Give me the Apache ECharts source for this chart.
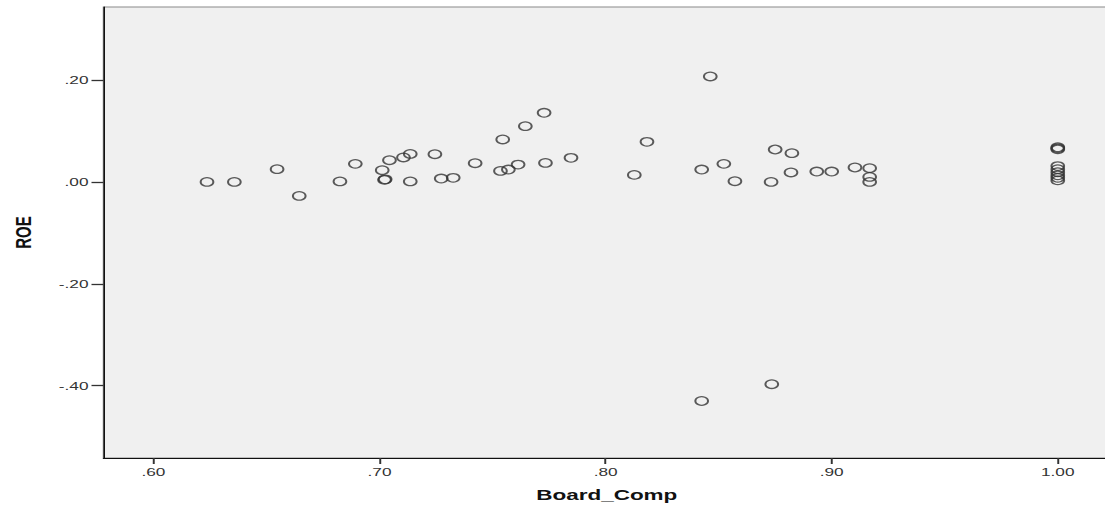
<!DOCTYPE html>
<html>
<head>
<meta charset="utf-8">
<script src="https://cdn.jsdelivr.net/npm/echarts@6/dist/echarts.min.js"></script>
<style>
  html, body { margin: 0; padding: 0; background: #ffffff; overflow: hidden; width: 1105px; height: 510px; }
  #chart { width: 740px; height: 510px; transform: scaleX(1.5); transform-origin: 0 0; }
</style>
</head>
<body>
<div id="chart"></div>
<script>
// Board_Comp (x) values
const boardComp = [
  0.6237, 0.6358, 0.6547, 0.6645, 0.6825, 0.6893, 0.7012, 0.7022, 0.7025, 0.7044,
  0.7106, 0.7136, 0.7136, 0.7245, 0.7273, 0.7326, 0.7423, 0.7545, 0.7535, 0.7570,
  0.7613, 0.7645, 0.7728, 0.7734, 0.7847, 0.8127, 0.8183, 0.8425, 0.8463, 0.8523,
  0.8572, 0.8732, 0.8750, 0.8824, 0.8820, 0.8934, 0.9000, 0.9103, 0.9168, 0.9168,
  0.9168, 0.8425, 0.8735,
  1.0, 1.0, 1.0, 1.0, 1.0, 1.0, 1.0, 1.0, 1.0
];
// ROE (y) values
const roe = [
  0.000, 0.000, 0.025, -0.0275, 0.001, 0.0354, 0.023, 0.004, 0.005, 0.0426,
  0.048, 0.055, 0.001, 0.0544, 0.0066, 0.008, 0.0367, 0.0833, 0.0216, 0.0243,
  0.034, 0.1094, 0.1356, 0.0373, 0.0472, 0.0138, 0.0786, 0.0243, 0.207, 0.0354,
  0.0014, 0.000, 0.0636, 0.0564, 0.0185, 0.0204, 0.0204, 0.0283, 0.027, 0.0098,
  0.000, -0.430, -0.397,
  0.068, 0.066, 0.064, 0.031, 0.025, 0.019, 0.013, 0.008, 0.003
];
const xTicks = [0.6, 0.7, 0.8, 0.9, 1.0];
const yTicks = [-0.4, -0.2, 0.0, 0.2];
const xName = 'Board_Comp';
const yName = 'ROE';

const fmt = v => v.toFixed(2).replace(/^(-?)0\./, '$1.').replace(/^-\.00$/, '.00');
const points = boardComp.map((x, i) => [x, roe[i]]);

const chart = echarts.init(document.getElementById('chart'), null, { renderer: 'svg' });
chart.setOption({
  animation: false,
  backgroundColor: '#ffffff',
  grid: {
    left: 68, top: 7, right: 0, bottom: 52,
    show: true, backgroundColor: '#F0F0F0', borderColor: '#8a8a8a', borderWidth: 1
  },
  xAxis: {
    type: 'value',
    min: 0.57792, max: 1.0231,
    name: xName, nameLocation: 'middle', nameGap: 29,
    nameTextStyle: { fontFamily: 'Liberation Sans, Arial, sans-serif', fontWeight: 'bold', fontSize: 15, color: '#111' },
    axisLine: { show: true, onZero: false, lineStyle: { color: '#111', width: 1 } },
    axisTick: { show: true, length: 6, customValues: xTicks, lineStyle: { color: '#333', width: 1.3 } },
    axisLabel: { customValues: xTicks, formatter: fmt, margin: 8, fontFamily: 'Liberation Sans, Arial, sans-serif', fontSize: 11.5, color: '#333' },
    splitLine: { show: false }
  },
  yAxis: {
    type: 'value',
    min: -0.5419, max: 0.3433,
    name: yName, nameLocation: 'middle', nameGap: 46,
    nameTextStyle: { fontFamily: 'Liberation Sans, Arial, sans-serif', fontWeight: 'bold', fontSize: 15, color: '#111' },
    axisLine: { show: true, onZero: false, lineStyle: { color: '#111', width: 1 } },
    axisTick: { show: true, length: 8, customValues: yTicks, lineStyle: { color: '#333', width: 1.3 } },
    axisLabel: { customValues: yTicks, formatter: fmt, margin: 10, fontFamily: 'Liberation Sans, Arial, sans-serif', fontSize: 11.5, color: '#333' },
    splitLine: { show: false }
  },
  series: [{
    type: 'scatter',
    data: points,
    symbol: 'circle',
    symbolSize: 8.5,
    itemStyle: { color: 'rgba(0,0,0,0)', borderColor: '#333', borderWidth: 1.3 },
    emphasis: { disabled: true }
  }]
});
</script>
</body>
</html>
